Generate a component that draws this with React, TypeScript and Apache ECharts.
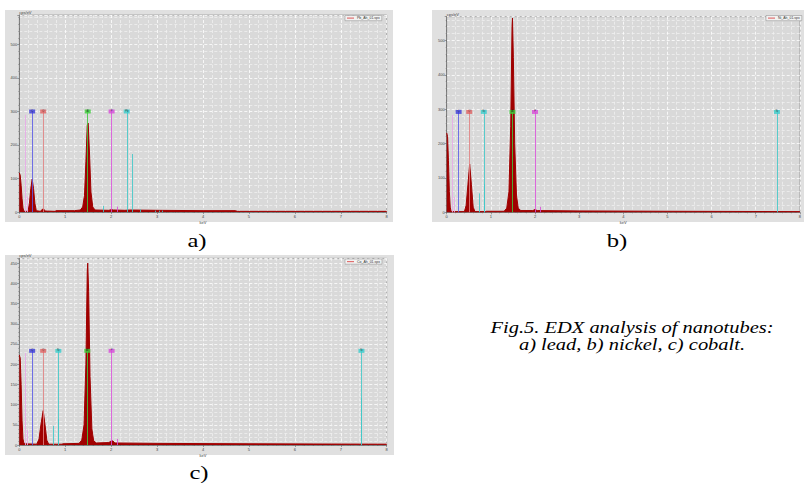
import React, { useEffect, useRef } from 'react';
import * as echarts from 'echarts';

// ---------- data ----------
const panelNames = ['a)', 'b)', 'c)'];
const legendNames = ['Pb_Ah_01.spx', 'Ni_Ah_01.spx', 'Co_Ah_01.spx'];
const captionLines = ['Fig.5. EDX analysis of nanotubes:', 'a) lead, b) nickel, c) cobalt.'];
const xAxisName = 'keV';
const yAxisName = 'cps/eV';
const yMaxes = [588, 569, 462];
const yIntervals = [100, 100, 50];

// spectra: [energy keV, counts]
const spectrumA: [number, number][] = [
  [0, 117], [0.02, 110], [0.04, 80], [0.06, 40], [0.08, 12], [0.1, 2], [0.19, 2], [0.22, 25], [0.25, 70],
  [0.28, 98], [0.31, 70], [0.34, 25], [0.37, 4], [0.46, 2], [0.5, 8], [0.53, 9], [0.56, 3], [0.78, 2],
  [0.8, 4], [1.2, 4], [1.33, 6], [1.38, 15], [1.42, 50], [1.45, 150], [1.48, 260], [1.5, 265], [1.53, 170],
  [1.56, 60], [1.6, 15], [1.65, 6], [1.95, 5], [2.0, 7], [2.05, 6], [2.3, 5], [2.4, 6], [3, 5], [4, 4],
  [4.7, 4], [4.75, 2], [6, 2], [8, 2],
];
const spectrumB: [number, number][] = [
  [0, 231], [0.02, 220], [0.04, 150], [0.06, 60], [0.08, 15], [0.1, 2], [0.4, 2], [0.44, 20], [0.48, 80],
  [0.52, 140], [0.56, 80], [0.6, 15], [0.64, 2], [0.88, 2], [0.9, 3], [1.3, 3], [1.36, 12], [1.41, 60],
  [1.45, 250], [1.48, 540], [1.49, 565], [1.51, 450], [1.54, 200], [1.58, 50], [1.62, 12], [1.68, 5],
  [1.95, 5], [2.0, 8], [2.05, 5], [3, 4], [5, 3], [8, 2],
];
const spectrumC: [number, number][] = [
  [0, 223], [0.02, 215], [0.04, 150], [0.06, 60], [0.08, 15], [0.1, 5], [0.12, 3], [0.38, 2], [0.43, 15],
  [0.47, 50], [0.52, 85], [0.56, 50], [0.6, 12], [0.64, 2], [0.93, 2], [0.95, 3], [1.3, 4], [1.36, 12],
  [1.41, 50], [1.45, 200], [1.48, 430], [1.49, 450], [1.51, 380], [1.54, 170], [1.58, 40], [1.62, 10],
  [1.68, 5], [1.95, 6], [2.0, 10], [2.04, 10], [2.08, 5], [3, 4], [5, 3], [8, 2],
];

// element marker lines: [element, energy keV, height counts]
const markersA: [string, number, number][] = [
  ['Pl', 0.12, 290], ['Pl', 0.175, 46], ['C', 0.28, 300], ['O', 0.52, 300], ['Al', 1.49, 300],
  ['P', 2.01, 300], ['P', 2.13, 16], ['Pb', 1.83, 18], ['Pb', 2.34, 300], ['Pb', 2.45, 173],
  ['Pb', 2.64, 8], ['Pb', 2.95, 4], ['Pb', 3.04, 4], ['Pb', 3.12, 4],
];
const markersB: [string, number, number][] = [
  ['Pl', 0.12, 283], ['Pl', 0.17, 45], ['C', 0.27, 292], ['O', 0.51, 292], ['Ni', 0.73, 55],
  ['Ni', 0.84, 292], ['Ni', 0.845, 82], ['Al', 1.49, 292], ['P', 2.0, 292], ['P', 2.13, 16], ['Ni', 7.48, 292],
];
const markersC: [string, number, number][] = [
  ['Pl', 0.12, 228], ['Pl', 0.18, 37], ['C', 0.28, 233], ['O', 0.52, 233], ['Ni', 0.73, 47],
  ['Ni', 0.85, 233], ['Ni', 0.855, 64], ['Al', 1.48, 233], ['P', 2.01, 233], ['P', 2.13, 15],
  ['Ni', 7.45, 233], ['Ni', 7.455, 116],
];
// label boxes: [element, energy]
const labelsA: [string, number][] = [['C', 0.28], ['O', 0.52], ['Al', 1.49], ['P', 2.01], ['Pb', 2.34]];
const labelsB: [string, number][] = [['C', 0.27], ['O', 0.51], ['Ni', 0.84], ['Al', 1.49], ['P', 2.0], ['Ni', 7.48]];
const labelsC: [string, number][] = [['C', 0.28], ['O', 0.52], ['Ni', 0.85], ['Al', 1.48], ['P', 2.01], ['Ni', 7.45]];
const labelLevels = [300, 292, 233];

// ---------- styles ----------
const lineColors: Record<string, string> = {
  C: '#5a5ae6', O: '#e08080', Al: '#40c840', P: '#d850d8', Pl: '#e8a8e8', Pb: '#40c8c8', Ni: '#40c8c8',
};
const boxColors: Record<string, string> = {
  C: '#3a3ad8', O: '#e06060', Al: '#38d038', P: '#d848d8', Pb: '#38cccc', Ni: '#38cccc',
};
const grids = [
  { left: 19.3, top: 15, width: 367.4, height: 197 },
  { left: 446.7, top: 16.7, width: 358.4, height: 195.6 },
  { left: 19.3, top: 258.3, width: 367.4, height: 186.7 },
];
const legendPos = [
  { left: 345, top: 15.5 },
  { left: 766, top: 15.5 },
  { left: 345, top: 259 },
];
const panelBg = [
  { x: 5, y: 10, width: 388, height: 212 },
  { x: 432, y: 10, width: 372, height: 212 },
  { x: 5, y: 255, width: 389, height: 200 },
];
const panelLabelPos = [
  [197, 241],
  [617, 241],
  [199, 473],
];

export default function App() {
  const ref = useRef<HTMLDivElement>(null);
  useEffect(() => {
    if (!ref.current) return;
    const chart = echarts.init(ref.current, undefined, { renderer: 'svg' });
    const spectra = [spectrumA, spectrumB, spectrumC];
    const markers = [markersA, markersB, markersC];
    const labels = [labelsA, labelsB, labelsC];
    const axisColor = '#666';
    const smallText = { fontSize: 4, color: '#444', fontFamily: 'Liberation Sans' };

    const xAxis = grids.map((_, i) => ({
      type: 'value', gridIndex: i, min: 0, max: 8, interval: 1,
      name: xAxisName, nameLocation: 'middle', nameGap: 8, nameTextStyle: smallText,
      axisLine: { show: true, onZero: false, lineStyle: { color: axisColor, width: 0.8 } },
      axisTick: { show: true, length: 2, lineStyle: { color: axisColor, width: 0.6 } },
      minorTick: { show: true, splitNumber: 5, length: 1, lineStyle: { color: axisColor, width: 0.5 } },
      axisLabel: { ...smallText, margin: 2 },
      splitLine: { show: true, lineStyle: { color: '#ffffff', width: 0.8, type: [3, 2] } },
      minorSplitLine: { show: true, lineStyle: { color: '#f2f2f2', width: 0.7, type: [3, 2] } },
    }));
    const yAxis = grids.map((_, i) => ({
      type: 'value', gridIndex: i, min: 0, max: yMaxes[i], interval: yIntervals[i],
      name: yAxisName, nameLocation: 'end', nameGap: 0.5,
      nameTextStyle: { ...smallText, align: 'left', verticalAlign: 'bottom' },
      axisLine: { show: true, lineStyle: { color: axisColor, width: 0.8 } },
      axisTick: { show: true, length: 2, lineStyle: { color: axisColor, width: 0.6 } },
      minorTick: { show: true, splitNumber: 5, length: 1, lineStyle: { color: axisColor, width: 0.5 } },
      axisLabel: { ...smallText, margin: 2, showMaxLabel: false },
      splitLine: { show: true, lineStyle: { color: '#ffffff', width: 0.8, type: [3, 2] } },
      minorSplitLine: { show: true, lineStyle: { color: '#f2f2f2', width: 0.7, type: [3, 2] } },
    }));

    const series: any[] = [];
    spectra.forEach((data, i) => {
      series.push({
        type: 'line', name: legendNames[i], xAxisIndex: i, yAxisIndex: i, data,
        showSymbol: false, symbol: 'none', smooth: false,
        itemStyle: { color: '#e07070' },
        lineStyle: { color: '#a00000', width: 1 },
        areaStyle: { color: '#a00000', opacity: 1 },
        z: 2,
        markLine: {
          silent: true, symbol: ['none', 'none'], label: { show: false },
          lineStyle: { type: 'solid', width: 1 },
          data: markers[i].map(([el, x, h]) => [
            { coord: [x, 0], lineStyle: { color: lineColors[el], width: 1, type: 'solid', opacity: 0.85 } },
            { coord: [x, h] },
          ]),
        },
      });
      series.push({
        type: 'scatter', xAxisIndex: i, yAxisIndex: i, z: 5, silent: true,
        symbol: 'rect', symbolSize: [6, 4],
        data: labels[i].map(([el, x]) => ({ value: [x, labelLevels[i]], name: el, itemStyle: { color: boxColors[el] } })),
        label: { show: true, position: 'inside', formatter: '{b}', fontSize: 2.6, color: '#111', fontFamily: 'Liberation Sans' },
      });
    });

    const legend = legendNames.map((n, i) => ({
      data: [{ name: n, icon: 'rect' }], ...legendPos[i], orient: 'horizontal',
      itemWidth: 7, itemHeight: 1.2, itemGap: 2,
      textStyle: { fontSize: 3.5, color: '#333', fontFamily: 'Liberation Sans', padding: [0, 0, 0, -2] },
      backgroundColor: '#f2f2f2', borderColor: '#888', borderWidth: 0.5, padding: [0.6, 2],
    }));

    const graphic: any[] = [];
    panelBg.forEach((r) => graphic.push({ type: 'rect', shape: r, style: { fill: '#e0e0e0' }, z: -10, silent: true }));
    panelNames.forEach((t, i) => graphic.push({
      type: 'text', x: panelLabelPos[i][0], y: panelLabelPos[i][1], z: 100, scaleX: 1.3,
      style: { text: t, fontSize: 19, fontFamily: 'Liberation Serif', fill: '#000', textAlign: 'center', textVerticalAlign: 'middle' },
    }));
    captionLines.forEach((t, i) => graphic.push({
      type: 'text', x: 632, y: 328 + i * 16.5, z: 100, scaleX: 1.28,
      style: { text: t, fontSize: 16, fontStyle: 'italic', fontFamily: 'Liberation Serif', fill: '#000', textAlign: 'center', textVerticalAlign: 'middle' },
    }));

    chart.setOption({
      animation: false,
      backgroundColor: '#ffffff',
      grid: grids.map((g) => ({ ...g, show: true, backgroundColor: '#d9d9d9', borderColor: '#999', borderWidth: 0.8, containLabel: false })),
      xAxis, yAxis, series, legend, graphic,
    });
    return () => chart.dispose();
  }, []);
  return <div ref={ref} style={{ position: 'absolute', left: 0, top: 0, width: 804, height: 486, background: '#fff' }} />;
}
